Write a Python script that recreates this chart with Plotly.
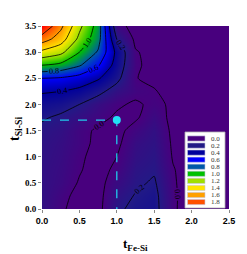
import plotly.graph_objects as go

# ---- data ----
x_vals = [0.0, 0.25, 0.5, 0.75, 1.0, 1.25, 1.5, 1.75, 2.0, 2.25, 2.5]
y_vals = [0.0, 0.25, 0.5, 0.75, 1.0, 1.25, 1.5, 1.75, 2.0, 2.25, 2.5, 2.75, 3.0, 3.25, 3.5]
z_row_000 = [0.12, 0.02, -0.05, -0.05, 0.17, 0.24, 0.26, 0.03, -0.10, -0.10, -0.10]
z_row_025 = [0.12, 0.04, -0.04, -0.05, 0.13, 0.21, 0.25, 0.03, -0.09, -0.10, -0.10]
z_row_050 = [0.12, 0.07, -0.01, -0.05, 0.08, 0.17, 0.22, 0.02, -0.08, -0.10, -0.10]
z_row_075 = [0.12, 0.08, 0.01, -0.05, 0.03, 0.15, 0.18, 0.01, -0.07, -0.10, -0.10]
z_row_100 = [0.13, 0.09, 0.02, -0.04, 0.00, 0.12, 0.16, -0.01, -0.06, -0.10, -0.10]
z_row_125 = [0.14, 0.10, 0.04, -0.03, -0.03, 0.10, 0.14, -0.02, -0.06, -0.10, -0.10]
z_row_150 = [0.16, 0.12, 0.04, -0.02, -0.04, 0.05, 0.12, -0.03, -0.06, -0.10, -0.10]
z_row_175 = [0.22, 0.17, 0.10, 0.04, -0.02, -0.02, 0.08, -0.04, -0.07, -0.10, -0.10]
z_row_200 = [0.30, 0.27, 0.20, 0.10, 0.02, -0.02, 0.03, -0.02, -0.08, -0.10, -0.10]
z_row_225 = [0.42, 0.40, 0.35, 0.25, 0.12, 0.04, 0.01, -0.05, -0.08, -0.10, -0.10]
z_row_250 = [0.60, 0.58, 0.52, 0.42, 0.25, 0.005, -0.03, -0.06, -0.08, -0.10, -0.10]
z_row_275 = [1.00, 0.95, 0.82, 0.62, 0.32, 0.02, -0.04, -0.06, -0.08, -0.10, -0.10]
z_row_300 = [1.35, 1.25, 1.00, 0.78, 0.35, 0.01, -0.04, -0.06, -0.08, -0.10, -0.10]
z_row_325 = [1.70, 1.50, 1.15, 0.88, 0.20, -0.03, -0.05, -0.06, -0.08, -0.10, -0.10]
z_row_350 = [2.00, 1.65, 1.25, 0.92, 0.05, -0.05, -0.05, -0.06, -0.08, -0.10, -0.10]
z_grid = [z_row_000, z_row_025, z_row_050, z_row_075, z_row_100, z_row_125, z_row_150,
          z_row_175, z_row_200, z_row_225, z_row_250, z_row_275, z_row_300, z_row_325, z_row_350]

legend_levels = [0.0, 0.2, 0.4, 0.6, 0.8, 1.0, 1.2, 1.4, 1.6, 1.8]
x_ticks = [0.0, 0.5, 1.0, 1.5, 2.0, 2.5]
y_ticks = [0.0, 0.5, 1.0, 1.5, 2.0, 2.5, 3.0, 3.5]
marked_x = [1.0]
marked_y = [1.7]

# ---- styles ----
level_colors = ["#48007e", "#221a86", "#00009c", "#0000ff", "#0058a8",
                "#00c000", "#a0e000", "#ffe600", "#ffa000", "#ff5000"]
top_color = "#ff0000"
zmax = 2.0
colorscale = [[lv / zmax, c] for lv, c in zip(legend_levels, level_colors)] + [[1.0, top_color]]

X_MIN, X_MAX = 0.0, 2.5
Y_MIN, Y_MAX = 0.0, 3.5

fig = go.Figure()
fig.add_trace(go.Contour(
    x=x_vals, y=y_vals, z=z_grid,
    zmin=0.0, zmax=zmax, zauto=False,
    colorscale=colorscale, showscale=False,
    contours=dict(start=legend_levels[0], end=legend_levels[-1], size=0.2,
                  coloring="heatmap", showlabels=True,
                  labelfont=dict(family="Liberation Serif", size=8, color="black"),
                  labelformat=".1f"),
    line=dict(color="black", width=0.8, smoothing=0.6),
    hoverinfo="skip",
))

mx, my = marked_x[0], marked_y[0]
fig.add_trace(go.Scatter(
    x=[X_MIN, mx, mx], y=[my, my, Y_MIN], mode="lines",
    line=dict(color="#22c8ea", width=1.3, dash="dash"), showlegend=False, hoverinfo="skip"))
fig.add_trace(go.Scatter(
    x=marked_x, y=marked_y, mode="markers",
    marker=dict(color="#22e0f5", size=8), showlegend=False, hoverinfo="skip"))

# ---- geometry (page has an 8px body margin) ----
OFF = 8
W, H = 239, 246
L, R, T, B = 34, 18, 18, 45
pw, ph = W - L - R, H - T - B
def px_x(p):
    return (p - OFF - L) / pw
def px_y(p):
    return (H - B - (p - OFF)) / ph

shapes = [dict(type="rect", xref="paper", yref="paper",
               x0=px_x(185), x1=px_x(225), y0=px_y(208), y1=px_y(132),
               fillcolor="white", line=dict(color="#b0b0b0", width=0.8), layer="above")]
annotations = []
for i, (lv, c) in enumerate(zip(legend_levels, level_colors)):
    cy = 138.5 + 7.06 * i
    shapes.append(dict(type="rect", xref="paper", yref="paper",
                       x0=px_x(187.5), x1=px_x(205), y0=px_y(cy + 2.6), y1=px_y(cy - 2.6),
                       fillcolor=c, line=dict(color="#c8c8e0", width=0.6), layer="above"))
    annotations.append(dict(xref="paper", yref="paper", x=px_x(209), y=px_y(cy),
                            text=f"{lv:.1f}", showarrow=False, xanchor="left", yanchor="middle",
                            font=dict(family="Liberation Serif", size=7, color="#333")))

annotations.append(dict(xref="paper", yref="paper", x=px_x(135), y=px_y(244),
                        text="<b>t<sub>Fe-Si</sub></b>", showarrow=False,
                        xanchor="center", yanchor="middle",
                        font=dict(family="Liberation Serif", size=13, color="black")))
annotations.append(dict(xref="paper", yref="paper", x=px_x(16), y=px_y(129),
                        text="<b>t<sub>Si-Si</sub></b>", showarrow=False, textangle=-90,
                        xanchor="center", yanchor="middle",
                        font=dict(family="Liberation Serif", size=14, color="black")))

fig.update_layout(
    width=W, height=H, margin=dict(l=L, r=R, t=T, b=B),
    paper_bgcolor="white", plot_bgcolor="white",
    shapes=shapes, annotations=annotations, showlegend=False,
)
fig.update_xaxes(range=[X_MIN, X_MAX], tickvals=x_ticks, ticktext=[f"{v:.1f}" for v in x_ticks],
                 ticks="outside", ticklen=3, tickcolor="#888", showgrid=False, zeroline=False,
                 tickfont=dict(family="Liberation Sans", size=9, color="black", weight="bold"))
fig.update_yaxes(range=[Y_MIN, Y_MAX], tickvals=y_ticks, ticktext=[f"{v:.1f}" for v in y_ticks],
                 ticks="outside", ticklen=3, tickcolor="#888", showgrid=False, zeroline=False,
                 tickfont=dict(family="Liberation Serif", size=9, color="black", weight="bold"))

fig.write_html("out.html")
